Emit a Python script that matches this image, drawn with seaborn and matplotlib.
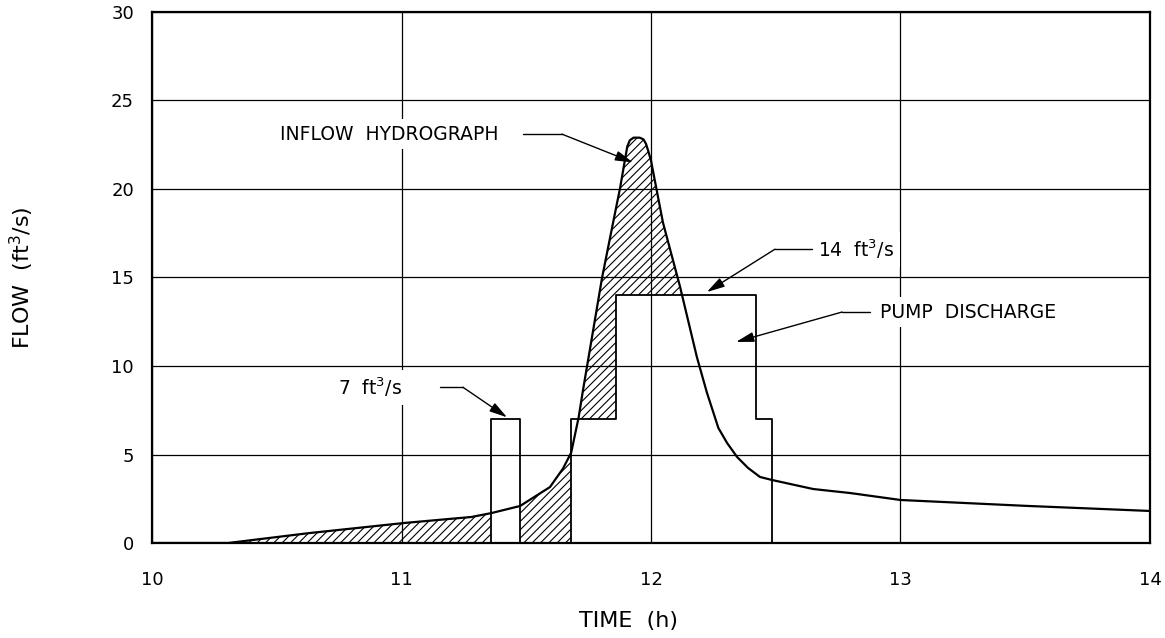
import matplotlib
matplotlib.use("Agg")
import matplotlib.pyplot as plt
import numpy as np
import pandas as pd
import seaborn as sns

# --- data ---
INFLOW_T = [10.0, 10.305, 10.63, 11.01, 11.28, 11.36, 11.475, 11.595, 11.647, 11.68,
            11.71, 11.727, 11.804, 11.848, 11.876, 11.895, 11.905, 11.915, 11.93, 11.955,
            11.97, 11.98, 11.99, 12.0, 12.048, 12.116, 12.184, 12.224, 12.27, 12.305,
            12.345, 12.389, 12.437, 12.485, 12.65, 12.8, 13.0, 13.5, 14.0]
INFLOW_Q = [0.0, 0.0, 0.56, 1.13, 1.47, 1.69, 2.09, 3.16, 4.2, 5.1,
            7.1, 8.6, 15.0, 18.1, 20.05, 21.6, 22.4, 22.75, 22.9, 22.9,
            22.8, 22.55, 22.1, 21.6, 18.1, 14.5, 10.5, 8.5, 6.5, 5.65,
            4.86, 4.24, 3.73, 3.56, 3.05, 2.82, 2.43, 2.1, 1.81]
PUMP_T = [10.0, 11.36, 11.475, 11.68, 11.86, 12.42, 12.485, 14.0]
PUMP_Q = [0, 7, 0, 7, 14, 7, 0, 0]
X_TICKS = [10, 11, 12, 13, 14]
Y_TICKS = [0, 5, 10, 15, 20, 25, 30]

sns.set_theme(style="white")
plt.rcParams["font.family"] = ["DejaVu Sans"]
plt.rcParams["hatch.linewidth"] = 0.8
for k in ["text.color", "axes.labelcolor", "xtick.color", "ytick.color"]:
    plt.rcParams[k] = "black"

inflow = pd.DataFrame({"t": INFLOW_T, "q": INFLOW_Q})
pump = pd.DataFrame({"t": PUMP_T, "q": PUMP_Q})

fig = plt.figure(figsize=(11.65, 6.38), dpi=100)
ax = fig.add_axes([0.1305, 0.1489, 0.8566, 0.8323])

# storage (inflow above pump while pumping) hatched
tt = np.linspace(10, 14, 8001)
q_in = np.interp(tt, inflow["t"], inflow["q"])
q_pump = pump["q"].values[np.searchsorted(pump["t"].values, tt, side="right") - 1]
ax.fill_between(tt, q_pump, q_in, where=(q_in > q_pump) & (tt < PUMP_T[-2]), interpolate=True,
                facecolor="none", edgecolor="black", hatch="////", linewidth=0, zorder=1)

sns.lineplot(data=pump, x="t", y="q", drawstyle="steps-post", color="black", lw=1.3, ax=ax, zorder=3)
sns.lineplot(data=inflow, x="t", y="q", color="black", lw=1.6, ax=ax, zorder=4)

ax.set_xlim(10, 14); ax.set_ylim(0, 30)
ax.set_xticks(X_TICKS); ax.set_yticks(Y_TICKS)
ax.set_xticklabels([str(v) for v in X_TICKS]); ax.set_yticklabels([str(v) for v in Y_TICKS])
ax.grid(True, color="black", lw=0.9)
ax.set_axisbelow(True)
for s in ax.spines.values():
    s.set_color("black"); s.set_linewidth(1.6)
ax.tick_params(axis="y", direction="out", length=7, width=1, color="black", pad=6, labelsize=13)
ax.tick_params(axis="x", length=0, pad=20, labelsize=13)
ax.set_xlabel("TIME  (h)", fontsize=16)
ax.set_ylabel("FLOW  (ft$^3$/s)", fontsize=16)
ax.xaxis.set_label_coords(0.477, -0.128)
ax.yaxis.set_label_coords(-0.116, 0.5)

box = dict(facecolor="white", edgecolor="none", pad=4)
arrow = dict(arrowstyle="-|>,head_length=0.9,head_width=0.25", mutation_scale=12,
             color="black", lw=1, shrinkA=0, shrinkB=0)

# annotations: text, horizontal leader, then arrow to the mark
notes = [
    ("INFLOW  HYDROGRAPH", 10.513, 23.1, 11.487, 11.643, 11.928, 21.5),
    ("7  ft$^3$/s", 10.745, 8.8, 11.154, 11.246, 11.423, 7.1),
    ("14  ft$^3$/s", 12.669, 16.6, 12.497, 12.645, 12.224, 14.18),
    ("PUMP  DISCHARGE", 12.918, 13.05, 12.766, 12.878, 12.341, 11.36),
]
for label, tx, ty, l0, l1, px, py in notes:
    ax.text(tx, ty, label, fontsize=13.5, ha="left", va="center", bbox=box, zorder=5)
    start = l1 if px > l1 else l0
    ax.plot([l0, l1], [ty, ty], color="black", lw=1, zorder=5)
    ax.annotate("", xy=(px, py), xytext=(start, ty), arrowprops=arrow, zorder=5)

fig.savefig("out.png", dpi=100)
